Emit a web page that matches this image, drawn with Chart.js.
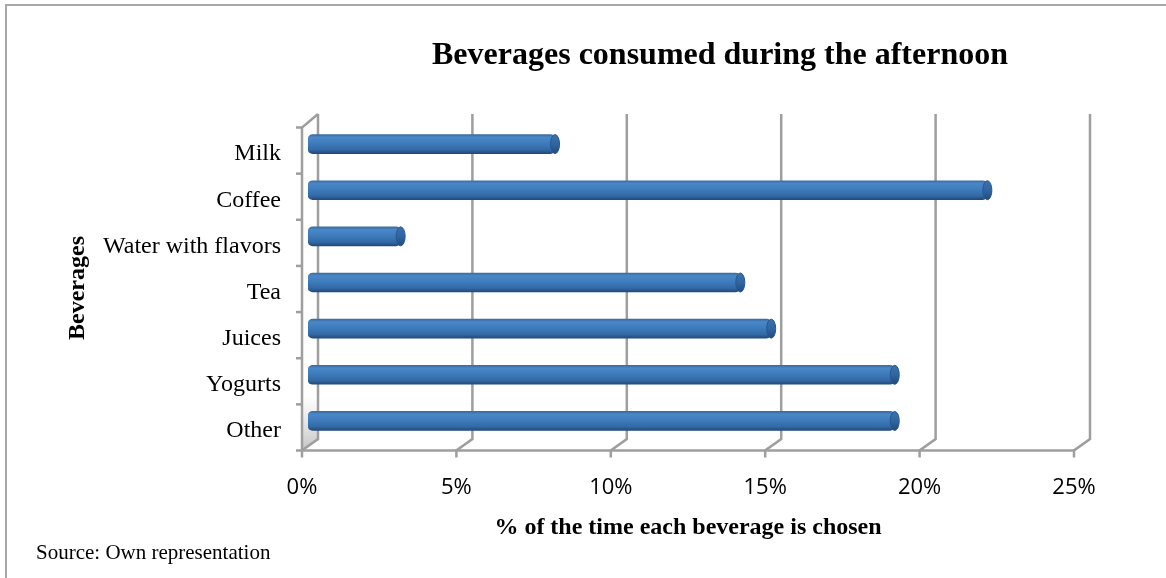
<!DOCTYPE html>
<html>
<head>
<meta charset="utf-8">
<script src="https://cdn.jsdelivr.net/npm/chart.js@4/dist/chart.umd.min.js"></script>
<style>
  html, body { margin: 0; padding: 0; background: #fff; }
  #chart { display: block; }
</style>
</head>
<body>
<canvas id="chart" width="1166" height="578"></canvas>
<script>
// data
const categories = ['Milk', 'Coffee', 'Water with flavors', 'Tea', 'Juices', 'Yogurts', 'Other'];
const shares = [8, 22, 3, 14, 15, 19, 19];
const xTicks = [0, 5, 10, 15, 20, 25];

const chartTitle = 'Beverages consumed during the afternoon';
const xTitle = '% of the time each beverage is chosen';
const yTitle = 'Beverages';
const sourceNote = 'Source: Own representation';

const serif = '"Liberation Serif", "Times New Roman", serif';
const sans = '"Open Sans", "DejaVu Sans", sans-serif';
const gridGray = '#9e9e9e';

// 3D offsets (front face / back wall) relative to the bar plane
const FRONT_DX = -6, BACK_DX = 10;
const FRONT_DY = 6.5, BACK_DY = -5;

function barGradient(chart, yCenter, half) {
    const g = chart.ctx.createLinearGradient(0, yCenter - half, 0, yCenter + half);
    g.addColorStop(0, '#3a6ca3');
    g.addColorStop(0.15, '#4a87c7');
    g.addColorStop(0.45, '#3e7cbd');
    g.addColorStop(0.8, '#3369a5');
    g.addColorStop(1, '#22497a');
    return g;
}

const decor = {
    id: 'decor',
    beforeDraw(chart) {
        const ctx = chart.ctx;
        ctx.save();
        ctx.fillStyle = '#fff';
        ctx.fillRect(0, 0, chart.width, chart.height);
        // outer frame (left + top)
        ctx.strokeStyle = '#a8a8a8';
        ctx.lineWidth = 2;
        ctx.beginPath();
        ctx.moveTo(chart.width, 5);
        ctx.lineTo(6, 5);
        ctx.lineTo(6, chart.height);
        ctx.stroke();
        ctx.restore();
    },
    beforeDatasetsDraw(chart) {
        const ctx = chart.ctx;
        const xs = chart.scales.x, ys = chart.scales.y;
        const frontTop = ys.getPixelForValue(-0.5) + FRONT_DY;
        const frontBottom = ys.getPixelForValue(categories.length - 0.5) + FRONT_DY;
        const backTop = ys.getPixelForValue(-0.5) + BACK_DY - 2;
        const backBottom = ys.getPixelForValue(categories.length - 0.5) + BACK_DY;
        ctx.save();

        // shaded side wall at bottom left
        const x0f = xs.getPixelForValue(0) + FRONT_DX, x0b = xs.getPixelForValue(0) + BACK_DX;
        const sh = ctx.createLinearGradient(0, frontBottom - 55, 0, frontBottom);
        sh.addColorStop(0, 'rgba(170,170,170,0)');
        sh.addColorStop(1, 'rgba(150,150,150,0.55)');
        ctx.fillStyle = sh;
        ctx.beginPath();
        ctx.moveTo(x0f, frontBottom);
        ctx.lineTo(x0f, frontBottom - 55);
        ctx.lineTo(x0b, backBottom - 55);
        ctx.lineTo(x0b, backBottom);
        ctx.closePath();
        ctx.fill();

        ctx.strokeStyle = gridGray;
        ctx.lineWidth = 2.5;
        // back wall gridlines + floor diagonals
        xTicks.forEach(v => {
            const px = xs.getPixelForValue(v);
            ctx.beginPath();
            ctx.moveTo(px + BACK_DX, backTop);
            ctx.lineTo(px + BACK_DX, backBottom);
            ctx.lineTo(px + FRONT_DX, frontBottom);
            ctx.lineTo(px + FRONT_DX, frontBottom + 7);
            ctx.stroke();
        });
        // front x axis
        ctx.beginPath();
        ctx.moveTo(xs.getPixelForValue(0) + FRONT_DX, frontBottom);
        ctx.lineTo(xs.getPixelForValue(25) + FRONT_DX, frontBottom);
        ctx.stroke();
        // front y axis with top diagonal
        ctx.beginPath();
        ctx.moveTo(x0b, backTop);
        ctx.lineTo(x0f, frontTop);
        ctx.lineTo(x0f, frontBottom);
        ctx.stroke();
        // y tick marks
        for (let k = 0; k <= categories.length; k++) {
            const py = ys.getPixelForValue(k - 0.5) + FRONT_DY;
            ctx.beginPath();
            ctx.moveTo(x0f - 6, py);
            ctx.lineTo(x0f, py);
            ctx.stroke();
        }
        ctx.restore();
    },
    afterDatasetsDraw(chart) {
        const ctx = chart.ctx;
        const meta = chart.getDatasetMeta(0);
        ctx.save();
        meta.data.forEach(el => {
            const half = el.height / 2;
            const g = ctx.createLinearGradient(0, el.y - half, 0, el.y + half);
            g.addColorStop(0, '#3b72ae');
            g.addColorStop(0.5, '#2f66a2');
            g.addColorStop(1, '#214a7b');
            ctx.fillStyle = g;
            ctx.strokeStyle = '#27578f';
            ctx.lineWidth = 1;
            ctx.beginPath();
            ctx.ellipse(el.x, el.y, 4.5, half, 0, 0, Math.PI * 2);
            ctx.fill();
            ctx.stroke();
        });
        ctx.restore();
    },
    afterDraw(chart) {
        const ctx = chart.ctx;
        ctx.save();
        ctx.fillStyle = '#000';
        ctx.textBaseline = 'middle';
        ctx.textAlign = 'center';
        ctx.font = 'bold 32px ' + serif;
        ctx.fillText(chartTitle, 720, 56);
        ctx.font = 'bold 24px ' + serif;
        ctx.fillText(xTitle, 688, 528);
        ctx.save();
        ctx.translate(78, 288);
        ctx.rotate(-Math.PI / 2);
        ctx.font = 'bold 24px ' + serif;
        ctx.fillText(yTitle, 0, 0);
        ctx.restore();
        ctx.textAlign = 'left';
        ctx.font = '21px ' + serif;
        ctx.fillText(sourceNote, 36, 553);
        ctx.restore();
    }
};

new Chart(document.getElementById('chart'), {
    type: 'bar',
    data: {
        labels: categories,
        datasets: [{
            data: shares,
            barThickness: 19,
            borderRadius: 5,
            borderSkipped: false,
            backgroundColor: (c) => {
                const ys = c.chart.scales.y;
                const py = ys ? ys.getPixelForValue(c.dataIndex) : NaN;
                if (!isFinite(py)) return '#3a76b6';
                return barGradient(c.chart, py, 9.5);
            }
        }]
    },
    options: {
        indexAxis: 'y',
        responsive: false,
        animation: false,
        layout: { padding: { top: 121, right: 86, left: 0, bottom: 0 } },
        plugins: {
            legend: { display: false },
            tooltip: { enabled: false },
            title: { display: false }
        },
        scales: {
            x: {
                type: 'linear',
                min: 0,
                max: 25,
                grid: { display: false },
                border: { display: false },
                ticks: {
                    stepSize: 5,
                    callback: v => v + '%',
                    color: '#000',
                    font: { family: sans, size: 22 },
                    padding: 23,
                    labelOffset: FRONT_DX
                },
                afterFit: s => { s.height = 134; }
            },
            y: {
                grid: { display: false },
                border: { display: false },
                ticks: {
                    autoSkip: false,
                    color: '#000',
                    font: { family: serif, size: 24 },
                    padding: 19,
                    labelOffset: 10
                },
                afterFit: s => { s.width = 308; }
            }
        }
    },
    plugins: [decor]
});
</script>
</body>
</html>
